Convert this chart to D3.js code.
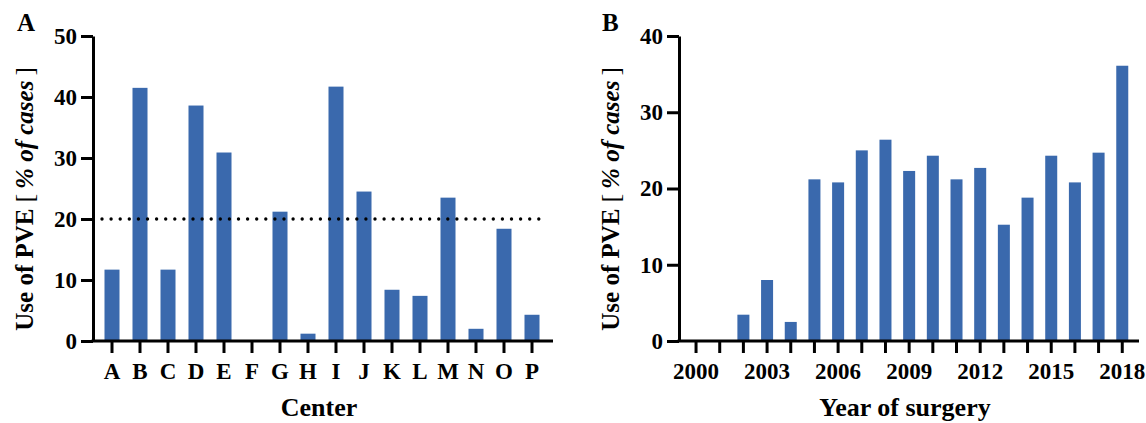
<!DOCTYPE html>
<html>
<head>
<meta charset="utf-8">
<script src="https://cdn.jsdelivr.net/npm/d3@7"></script>
<style>
  body { margin: 0; background: #fff; }
  svg { font-family: "Liberation Serif", "Times New Roman", serif; font-weight: bold; }
</style>
</head>
<body>
<div id="chart"></div>
<script>
// panel A: use of PVE per center
const centers = ['A', 'B', 'C', 'D', 'E', 'F', 'G', 'H', 'I', 'J', 'K', 'L', 'M', 'N', 'O', 'P']
const centerValues = [11.7, 41.5, 11.7, 38.6, 30.9, 0, 21.2, 1.2, 41.7, 24.5, 8.4, 7.4, 23.5, 2.0, 18.4, 4.3]
const centerTicks = [0, 10, 20, 30, 40, 50]
const referenceLine = 20

// panel B: use of PVE per year
const years = d3.range(2000, 2019)
const yearValues = [0, 0, 3.45, 8.0, 2.5, 21.2, 20.8, 25.0, 26.4, 22.3, 24.3, 21.2, 22.7, 15.25, 18.8, 24.3, 20.8, 24.7, 36.1]
const yearTicks = [0, 10, 20, 30, 40]
const yearLabels = [2000, 2003, 2006, 2009, 2012, 2015, 2018]

const barColor = '#3a69ad'
const W = 1146, H = 423

const svg = d3.select('#chart').append('svg').attr('width', W).attr('height', H)

function styleAxis(sel) {
  // drop d3's default sans-serif font so the svg serif font applies
  sel.attr('font-family', null).attr('font-size', null)
  sel.selectAll('text').attr('font-size', 23).attr('fill', '#000')
  sel.selectAll('line').attr('stroke', '#000').attr('stroke-width', 3)
  sel.select('.domain').attr('stroke', '#000').attr('stroke-width', 3)
}

function drawPanel(opt) {
  const g = svg.append('g')
  const y = d3.scaleLinear().domain([0, opt.yMax]).range([341, 36])
  const x = d3.scaleBand().domain(opt.cats).range(opt.bandRange)
    .paddingInner(opt.pad).paddingOuter(opt.pad / 2)

  // bars
  g.selectAll('rect.bar')
    .data(opt.cats.map((c, i) => ({c: c, v: opt.values[i]})))
    .enter()
      .append('rect')
      .attr('class', 'bar')
      .attr('x', (d) => x(d.c))
      .attr('width', x.bandwidth())
      .attr('y', (d) => y(d.v))
      .attr('height', (d) => y(0) - y(d.v))
      .attr('fill', barColor)

  if (opt.refLine !== undefined) {
    g.append('line')
      .attr('x1', opt.left + 9).attr('x2', opt.right - 10)
      .attr('y1', y(opt.refLine)).attr('y2', y(opt.refLine))
      .attr('stroke', '#000').attr('stroke-width', 3.4)
      .attr('stroke-linecap', 'round').attr('stroke-dasharray', '0 9.1')
  }

  // y axis
  g.append('g')
    .attr('transform', `translate(${opt.left},0)`)
    .call(d3.axisLeft(y).tickValues(opt.yTicks).tickSize(12).tickSizeOuter(0).tickPadding(4))
    .call(styleAxis)

  // x axis
  const xAxis = g.append('g')
    .attr('transform', 'translate(0,341)')
    .call(d3.axisBottom(x).tickSize(12).tickSizeOuter(0).tickPadding(10)
      .tickFormat((d) => opt.labelFilter(d) ? d : ''))
    .call(styleAxis)
  xAxis.select('.domain').remove()
  g.append('line')
    .attr('x1', opt.left - 1.5).attr('x2', opt.right)
    .attr('y1', 341).attr('y2', 341)
    .attr('stroke', '#000').attr('stroke-width', 3)

  // titles
  g.append('text')
    .attr('x', (opt.left + opt.right) / 2 - 4).attr('y', 416)
    .attr('text-anchor', 'middle').attr('font-size', 26)
    .text(opt.xTitle)

  const yt = g.append('text')
    .attr('transform', `translate(${opt.left - 60},${199}) rotate(-90)`)
    .attr('text-anchor', 'middle').attr('font-size', 25)
  yt.append('tspan').text('Use of PVE ')
  yt.append('tspan').attr('font-weight', 'normal').text('[\u2009')
  yt.append('tspan').attr('font-style', 'italic').text('% of cases')
  yt.append('tspan').attr('font-weight', 'normal').text('\u2009]')

  g.append('text')
    .attr('x', opt.letterX).attr('y', 31)
    .attr('font-size', 25)
    .text(opt.letter)
}

drawPanel({
  cats: centers, values: centerValues, yMax: 50, yTicks: centerTicks,
  left: 93, right: 553, bandRange: [98, 546], pad: 0.464,
  refLine: referenceLine, labelFilter: () => true,
  xTitle: 'Center', letter: 'A', letterX: 17,
})

drawPanel({
  cats: years, values: yearValues, yMax: 40, yTicks: yearTicks,
  left: 679, right: 1139, bandRange: [684.2, 1134.1], pad: 0.493,
  labelFilter: (d) => yearLabels.includes(d),
  xTitle: 'Year of surgery', letter: 'B', letterX: 602,
})
</script>
</body>
</html>
